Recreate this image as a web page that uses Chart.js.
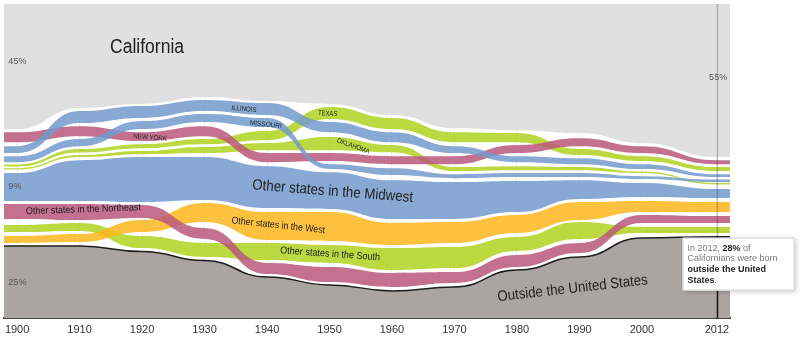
<!DOCTYPE html>
<html>
<head>
<meta charset="utf-8">
<script src="https://cdn.jsdelivr.net/npm/chart.js@4.4.1/dist/chart.umd.min.js"></script>
<style>
  html, body { margin: 0; padding: 0; background: #fff; overflow: hidden; }
  #chart { display: block; }
</style>
</head>
<body>
<canvas id="chart" width="800" height="341"></canvas>
<script>
// Census years on the axis
const years = [1900, 1910, 1920, 1930, 1940, 1950, 1960, 1970, 1980, 1990, 2000, 2012];

// Share of Californians (%) born in California / outside the US
const california = [43.8, 36.4, 35.0, 32.6, 34.0, 35.0, 38.9, 43.5, 44.2, 45.2, 48.7, 53.6];
const outside = [25.2, 25.2, 23.3, 20.1, 14.4, 11.6, 9.5, 10.9, 16.8, 21.4, 28.0, 28.5];

// Stream bands, [bottom, top] on the % axis for each census year
const illinois = [[57.8,60.2],[68.3,72.5],[70.1,74.3],[72.5,76.4],[71.1,75.3],[65.1,68.7],[61.6,65.1],[57.8,60.2],[54.6,56.7],[53.9,56.0],[52.2,53.9],[49.4,50.4]];
const missouri = [[54.6,56.7],[60.2,62.7],[66.2,69.0],[68.7,71.5],[66.9,70.1],[52.2,53.9],[50.1,52.5],[49.0,50.4],[49.4,50.8],[49.4,50.8],[48.7,49.7],[47.6,48.5]];
const newYork = [[61.6,65.1],[63.7,67.2],[62.0,65.1],[63.7,67.2],[54.6,57.8],[55.0,57.8],[53.9,56.7],[53.9,56.7],[57.8,60.6],[60.2,63.0],[57.8,60.2],[53.9,55.3]];
const texas = [[53.1,53.8],[58.0,59.2],[59.5,60.9],[60.9,62.7],[62.3,65.5],[69.7,73.9],[66.2,70.1],[61.6,65.1],[61.6,64.8],[57.1,59.2],[55.0,56.7],[51.5,52.9]];
const oklahoma = [[52.0,52.5],[56.4,57.1],[57.4,58.5],[57.8,59.9],[58.8,61.3],[58.8,63.4],[58.1,60.6],[51.5,52.9],[51.8,53.2],[51.8,52.9],[50.8,51.3],[46.8,47.3]];
const otherMidwest = [[41.0,50.8],[41.0,55.3],[40.6,56.4],[41.3,56.4],[38.5,53.2],[38.2,51.1],[34.7,48.3],[34.7,47.6],[37.1,48.0],[41.7,48.3],[42.4,47.3],[42.0,45.2]];
const otherNortheast = [[34.7,39.9],[34.3,39.9],[35.0,39.6],[27.7,31.5],[15.4,19.3],[12.6,17.9],[10.9,15.8],[12.3,16.1],[17.9,22.1],[22.8,26.3],[33.3,36.1],[33.3,35.7]];
const otherWest = [[26.3,28.7],[26.6,29.4],[30.1,34.3],[33.6,40.3],[27.3,37.1],[27.0,37.1],[25.6,33.3],[26.3,33.6],[29.8,36.1],[34.3,40.6],[37.1,41.0],[37.1,40.6]];
const otherSouth = [[30.1,32.6],[30.5,33.3],[24.5,28.7],[21.4,26.3],[20.3,26.3],[19.3,25.6],[16.8,24.5],[17.5,24.9],[23.5,28.4],[27.7,33.6],[29.8,31.9],[29.8,31.9]];

const TOTAL = 110;          // 100% plus room for the white gaps
const X_MIN = 1897.9, X_MAX = 2014.1;
const fontFamily = '"Liberation Sans", Arial, sans-serif';

const BLUE = 'rgba(114,154,204,0.85)';
const PINK = 'rgba(186,88,123,0.85)';
const GREEN = 'rgba(177,210,33,0.85)';
const ORANGE = 'rgba(251,182,28,0.85)';

// run each series flat out to the edges of the plot
const series = vals => [{ x: X_MIN, y: vals[0] }]
    .concat(years.map((yr, i) => ({ x: yr, y: vals[i] })))
    .concat([{ x: X_MAX, y: vals[vals.length - 1] }]);

const base = { pointRadius: 0, borderWidth: 0, tension: 0.4 };

function band(label, pairs, color) {
    return [
        { ...base, label: label + ' (bottom)', data: series(pairs.map(p => p[0])), fill: false },
        { ...base, label: label, data: series(pairs.map(p => p[1])), fill: '-1', backgroundColor: color },
    ];
}

const datasets = [
    ...band('Illinois', illinois, BLUE),
    ...band('Missouri', missouri, BLUE),
    ...band('New York', newYork, PINK),
    ...band('Texas', texas, GREEN),
    ...band('Oklahoma', oklahoma, GREEN),
    ...band('Other states in the Midwest', otherMidwest, BLUE),
    ...band('Other states in the Northeast', otherNortheast, PINK),
    ...band('Other states in the West', otherWest, ORANGE),
    ...band('Other states in the South', otherSouth, GREEN),
    { ...base, label: 'Outside the United States', data: series(outside), fill: 'origin',
      backgroundColor: '#aaa5a3', borderColor: '#1e1e1e', borderWidth: 1.5 },
    { ...base, label: 'California', data: series(california.map(v => TOTAL - v)), fill: 'end',
      backgroundColor: '#e0e0e0' },
];

// bends that leave every census point flat, like a bump chart
const flatBends = {
    id: 'flatBends',
    beforeDatasetsDraw(chart) {
        chart.getSortedVisibleDatasetMetas().forEach(meta => {
            const line = meta.dataset;
            if (!line) return;
            line.updateControlPoints(chart.chartArea, 'x');
            const pts = meta.data;
            pts.forEach((p, i) => {
                const prev = pts[i - 1], next = pts[i + 1];
                p.cp1x = prev ? p.x - (p.x - prev.x) * 0.5 : p.x;
                p.cp1y = p.y;
                p.cp2x = next ? p.x + (next.x - p.x) * 0.5 : p.x;
                p.cp2y = p.y;
            });
            line._path = undefined;
        });
    }
};

const labels = [
    { text: 'California', year: 1920.8, value: 94.6, angle: 0, size: 20, width: 74 },
    { text: 'Other states in the Midwest', year: 1950.5, value: 44.3, angle: 4.5, size: 15, width: 161 },
    { text: 'Other states in the Northeast', year: 1910.6, value: 38.0, angle: -2, size: 10, width: 115 },
    { text: 'Other states in the West', year: 1941.8, value: 32.4, angle: 6, size: 10, width: 94 },
    { text: 'Other states in the South', year: 1950.1, value: 22.4, angle: 4, size: 10, width: 100 },
    { text: 'Outside the United States', year: 1988.9, value: 10.3, angle: -6.5, size: 15, width: 151 },
    { text: 'ILLINOIS', year: 1936.3, value: 73.2, angle: 5, size: 7, width: 25 },
    { text: 'MISSOURI', year: 1939.8, value: 67.8, angle: 6, size: 7, width: 32 },
    { text: 'NEW YORK', year: 1921.3, value: 63.2, angle: 5, size: 7, width: 34 },
    { text: 'TEXAS', year: 1949.7, value: 71.6, angle: 3, size: 7, width: 19 },
    { text: 'OKLAHOMA', year: 1953.8, value: 60.2, angle: 20, size: 7, width: 34 },
];
const pctLabels = [
    { text: '45%', year: 1898.6, value: 89.7, align: 'left' },
    { text: '9%', year: 1898.6, value: 45.9, align: 'left' },
    { text: '25%', year: 1898.6, value: 12.6, align: 'left' },
    { text: '55%', year: 2012.2, value: 84.4, align: 'center' },
];

const annotations = {
    id: 'annotations',
    afterDraw(chart) {
        const { ctx, chartArea } = chart;
        const xs = chart.scales.x, ys = chart.scales.y;

        // 2012 marker
        const x12 = Math.round(xs.getPixelForValue(2012)) + 0.5;
        const yOut = ys.getPixelForValue(outside[outside.length - 1]);
        ctx.save();
        ctx.strokeStyle = 'rgba(0,0,0,0.22)';
        ctx.lineWidth = 1.5;
        ctx.beginPath();
        ctx.moveTo(x12, chartArea.top);
        ctx.lineTo(x12, yOut);
        ctx.stroke();
        ctx.strokeStyle = '#111';
        ctx.beginPath();
        ctx.moveTo(x12, yOut);
        ctx.lineTo(x12, chartArea.bottom);
        ctx.stroke();
        ctx.restore();

        labels.forEach(l => {
            ctx.save();
            ctx.translate(xs.getPixelForValue(l.year), ys.getPixelForValue(l.value));
            ctx.rotate(l.angle * Math.PI / 180);
            ctx.font = l.size + 'px ' + fontFamily;
            const w = ctx.measureText(l.text).width;
            ctx.scale(l.width / w, 1);
            ctx.textAlign = 'center';
            ctx.textBaseline = 'middle';
            ctx.fillStyle = '#222';
            ctx.fillText(l.text, 0, 0);
            ctx.restore();
        });

        pctLabels.forEach(l => {
            ctx.save();
            ctx.font = '9px ' + fontFamily;
            ctx.textAlign = l.align;
            ctx.textBaseline = 'middle';
            ctx.fillStyle = '#555';
            ctx.fillText(l.text, xs.getPixelForValue(l.year), ys.getPixelForValue(l.value));
            ctx.restore();
        });

        // call-out box for 2012
        const bx = x12 - 35, by = yOut + 1, bw = 112, bh = 53;
        ctx.save();
        ctx.shadowColor = 'rgba(0,0,0,0.25)';
        ctx.shadowBlur = 5;
        ctx.shadowOffsetX = 1;
        ctx.shadowOffsetY = 1;
        ctx.fillStyle = '#fff';
        ctx.fillRect(bx, by, bw, bh);
        ctx.restore();
        ctx.save();
        ctx.strokeStyle = '#d0d0d0';
        ctx.lineWidth = 1;
        ctx.strokeRect(bx + 0.5, by + 0.5, bw - 1, bh - 1);
        const lines = [
            [['In 2012, ', false], ['28%', true], [' of', false]],
            [['Californians were born', false]],
            [['outside the United', true]],
            [['States', true], ['.', false]],
        ];
        ctx.textBaseline = 'middle';
        ctx.textAlign = 'left';
        lines.forEach((parts, i) => {
            let tx = bx + 5;
            const ty = by + 10.5 + i * 10.8;
            parts.forEach(([t, bold]) => {
                ctx.font = (bold ? 'bold ' : '') + '9px ' + fontFamily;
                ctx.fillStyle = bold ? '#222' : '#777';
                ctx.fillText(t, tx, ty);
                tx += ctx.measureText(t).width;
            });
        });
        ctx.restore();
    }
};

new Chart(document.getElementById('chart'), {
    type: 'line',
    data: { datasets },
    options: {
        responsive: false,
        animation: false,
        devicePixelRatio: 1,
        events: [],
        layout: { padding: { left: 4, right: 70, top: 4, bottom: 0 } },
        plugins: {
            legend: { display: false },
            tooltip: { enabled: false },
        },
        scales: {
            x: {
                type: 'linear',
                min: X_MIN,
                max: X_MAX,
                z: 1,
                afterBuildTicks: axis => { axis.ticks = years.map(v => ({ value: v })); },
                grid: { color: 'rgba(0,0,0,0.07)', drawTicks: false },
                border: { display: true, color: '#444', width: 2 },
                ticks: {
                    autoSkip: false,
                    maxRotation: 0,
                    padding: 4,
                    color: '#333',
                    font: { family: fontFamily, size: 11, lineHeight: 15 / 11 },
                    callback: v => String(v),
                },
            },
            y: { display: false, min: 0, max: TOTAL },
        },
    },
    plugins: [flatBends, annotations],
});
</script>
</body>
</html>
